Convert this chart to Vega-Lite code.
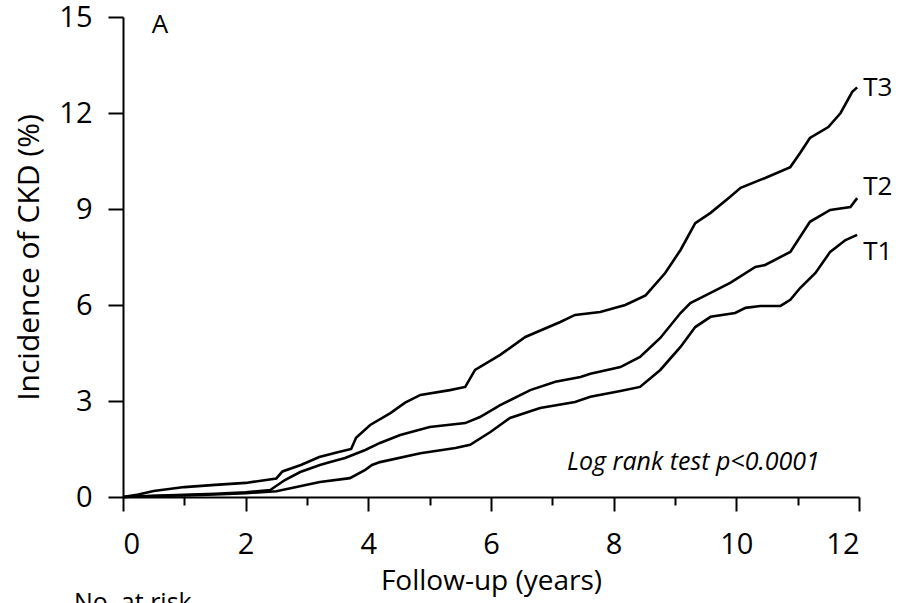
{
  "$schema": "https://vega.github.io/schema/vega-lite/v6.json",
  "autosize": {"type": "none"},
  "width": 736,
  "height": 480,
  "padding": {"left": 123, "top": 17, "right": 39, "bottom": 106},
  "background": "white",
  "config": {
    "view": {"stroke": null},
    "font": "Open Sans",
    "axis": {
      "domainColor": "black",
      "domainWidth": 2,
      "tickColor": "black",
      "tickWidth": 2,
      "labelFont": "Open Sans",
      "labelColor": "black",
      "labelFontSize": 29,
      "titleFont": "Open Sans",
      "titleColor": "black",
      "titleFontSize": 28,
      "titleFontWeight": "normal",
      "grid": false
    }
  },
  "datasets": {
    "curves": [
      {"group": "T3", "t": 0, "v": 0}, {"group": "T3", "t": 0.25, "v": 0.08}, {"group": "T3", "t": 0.5, "v": 0.19}, {"group": "T3", "t": 1, "v": 0.31}, {"group": "T3", "t": 1.5, "v": 0.38}, {"group": "T3", "t": 2, "v": 0.44}, {"group": "T3", "t": 2.5, "v": 0.58}, {"group": "T3", "t": 2.6, "v": 0.8}, {"group": "T3", "t": 2.9, "v": 1.0}, {"group": "T3", "t": 3.2, "v": 1.25}, {"group": "T3", "t": 3.5, "v": 1.4}, {"group": "T3", "t": 3.72, "v": 1.5}, {"group": "T3", "t": 3.8, "v": 1.85}, {"group": "T3", "t": 4.03, "v": 2.25}, {"group": "T3", "t": 4.36, "v": 2.62}, {"group": "T3", "t": 4.6, "v": 2.95}, {"group": "T3", "t": 4.85, "v": 3.19}, {"group": "T3", "t": 5.33, "v": 3.34}, {"group": "T3", "t": 5.58, "v": 3.44}, {"group": "T3", "t": 5.74, "v": 3.97}, {"group": "T3", "t": 6.15, "v": 4.44}, {"group": "T3", "t": 6.56, "v": 5.0}, {"group": "T3", "t": 7.13, "v": 5.47}, {"group": "T3", "t": 7.37, "v": 5.69}, {"group": "T3", "t": 7.78, "v": 5.78}, {"group": "T3", "t": 8.19, "v": 6.0}, {"group": "T3", "t": 8.52, "v": 6.3}, {"group": "T3", "t": 8.84, "v": 7.0}, {"group": "T3", "t": 9.09, "v": 7.72}, {"group": "T3", "t": 9.33, "v": 8.56}, {"group": "T3", "t": 9.58, "v": 8.88}, {"group": "T3", "t": 9.9, "v": 9.38}, {"group": "T3", "t": 10.07, "v": 9.66}, {"group": "T3", "t": 10.47, "v": 9.97}, {"group": "T3", "t": 10.88, "v": 10.31}, {"group": "T3", "t": 11.04, "v": 10.75}, {"group": "T3", "t": 11.2, "v": 11.22}, {"group": "T3", "t": 11.5, "v": 11.56}, {"group": "T3", "t": 11.7, "v": 12.0}, {"group": "T3", "t": 11.89, "v": 12.66}, {"group": "T3", "t": 11.97, "v": 12.8},
      {"group": "T2", "t": 0, "v": 0}, {"group": "T2", "t": 0.5, "v": 0.04}, {"group": "T2", "t": 1, "v": 0.07}, {"group": "T2", "t": 1.5, "v": 0.1}, {"group": "T2", "t": 2, "v": 0.15}, {"group": "T2", "t": 2.4, "v": 0.22}, {"group": "T2", "t": 2.64, "v": 0.53}, {"group": "T2", "t": 2.89, "v": 0.78}, {"group": "T2", "t": 3.21, "v": 1.0}, {"group": "T2", "t": 3.38, "v": 1.09}, {"group": "T2", "t": 3.62, "v": 1.22}, {"group": "T2", "t": 3.95, "v": 1.47}, {"group": "T2", "t": 4.19, "v": 1.69}, {"group": "T2", "t": 4.52, "v": 1.94}, {"group": "T2", "t": 5.0, "v": 2.19}, {"group": "T2", "t": 5.58, "v": 2.31}, {"group": "T2", "t": 5.82, "v": 2.5}, {"group": "T2", "t": 6.15, "v": 2.87}, {"group": "T2", "t": 6.64, "v": 3.34}, {"group": "T2", "t": 7.05, "v": 3.6}, {"group": "T2", "t": 7.46, "v": 3.75}, {"group": "T2", "t": 7.62, "v": 3.85}, {"group": "T2", "t": 8.11, "v": 4.06}, {"group": "T2", "t": 8.43, "v": 4.38}, {"group": "T2", "t": 8.76, "v": 4.97}, {"group": "T2", "t": 9.09, "v": 5.75}, {"group": "T2", "t": 9.25, "v": 6.06}, {"group": "T2", "t": 9.58, "v": 6.38}, {"group": "T2", "t": 9.9, "v": 6.69}, {"group": "T2", "t": 10.31, "v": 7.19}, {"group": "T2", "t": 10.47, "v": 7.25}, {"group": "T2", "t": 10.88, "v": 7.66}, {"group": "T2", "t": 11.2, "v": 8.6}, {"group": "T2", "t": 11.53, "v": 8.97}, {"group": "T2", "t": 11.86, "v": 9.06}, {"group": "T2", "t": 11.97, "v": 9.34},
      {"group": "T1", "t": 0, "v": 0}, {"group": "T1", "t": 0.5, "v": 0.03}, {"group": "T1", "t": 1, "v": 0.05}, {"group": "T1", "t": 1.5, "v": 0.08}, {"group": "T1", "t": 2, "v": 0.12}, {"group": "T1", "t": 2.5, "v": 0.18}, {"group": "T1", "t": 2.75, "v": 0.28}, {"group": "T1", "t": 3.21, "v": 0.47}, {"group": "T1", "t": 3.7, "v": 0.59}, {"group": "T1", "t": 3.95, "v": 0.85}, {"group": "T1", "t": 4.06, "v": 1.0}, {"group": "T1", "t": 4.19, "v": 1.09}, {"group": "T1", "t": 4.85, "v": 1.37}, {"group": "T1", "t": 5.42, "v": 1.53}, {"group": "T1", "t": 5.66, "v": 1.63}, {"group": "T1", "t": 5.99, "v": 2.03}, {"group": "T1", "t": 6.31, "v": 2.47}, {"group": "T1", "t": 6.8, "v": 2.78}, {"group": "T1", "t": 7.37, "v": 2.97}, {"group": "T1", "t": 7.62, "v": 3.13}, {"group": "T1", "t": 8.11, "v": 3.31}, {"group": "T1", "t": 8.43, "v": 3.44}, {"group": "T1", "t": 8.76, "v": 3.97}, {"group": "T1", "t": 9.09, "v": 4.69}, {"group": "T1", "t": 9.33, "v": 5.31}, {"group": "T1", "t": 9.58, "v": 5.63}, {"group": "T1", "t": 9.98, "v": 5.75}, {"group": "T1", "t": 10.15, "v": 5.91}, {"group": "T1", "t": 10.39, "v": 5.97}, {"group": "T1", "t": 10.72, "v": 5.97}, {"group": "T1", "t": 10.88, "v": 6.16}, {"group": "T1", "t": 11.04, "v": 6.53}, {"group": "T1", "t": 11.29, "v": 7.0}, {"group": "T1", "t": 11.53, "v": 7.66}, {"group": "T1", "t": 11.78, "v": 8.03}, {"group": "T1", "t": 11.97, "v": 8.19}
    ],
    "endLabels": [
      {"t": 12.07, "v": 12.78, "label": "T3"},
      {"t": 12.07, "v": 9.69, "label": "T2"},
      {"t": 12.07, "v": 7.66, "label": "T1"},
      {"t": 0.47, "v": 14.75, "label": "A"}
    ],
    "note": [
      {"t": 7.24, "v": 1.1, "label": "Log rank test p<0.0001"}
    ],
    "risk": [
      {"t": -0.8, "v": -3.3, "label": "No. at risk"}
    ]
  },
  "layer": [
    {
      "data": {"name": "curves"},
      "mark": {"type": "line", "color": "black", "strokeWidth": 2.6, "clip": false},
      "encoding": {
        "x": {
          "field": "t", "type": "quantitative",
          "scale": {"domain": [0, 12], "nice": false, "zero": false},
          "axis": {
            "values": [0, 1, 2, 3, 4, 5, 6, 7, 8, 9, 10, 11, 12],
            "format": "d",
            "labelExpr": "datum.value % 2 === 0 ? datum.label : ''",
            "tickSize": {"condition": {"test": "datum.value % 2 === 1", "value": 8}, "value": 14},
            "labelPadding": 19,
            "title": "Follow-up (years)",
            "titlePadding": 8
          }
        },
        "y": {
          "field": "v", "type": "quantitative",
          "scale": {"domain": [0, 15], "nice": false},
          "axis": {
            "values": [0, 3, 6, 9, 12, 15],
            "format": "d",
            "tickSize": 15,
            "labelPadding": 16,
            "title": "Incidence of CKD (%)",
            "titleFontSize": 30,
            "titlePadding": 14
          }
        },
        "detail": {"field": "group"}
      }
    },
    {
      "data": {"name": "endLabels"},
      "mark": {"type": "text", "align": "left", "baseline": "middle", "fontSize": 26, "font": "Open Sans", "color": "black", "clip": false},
      "encoding": {
        "x": {"field": "t", "type": "quantitative"},
        "y": {"field": "v", "type": "quantitative"},
        "text": {"field": "label"}
      }
    },
    {
      "data": {"name": "note"},
      "mark": {"type": "text", "align": "left", "baseline": "middle", "fontSize": 25, "fontStyle": "italic", "font": "Open Sans", "color": "black"},
      "encoding": {
        "x": {"field": "t", "type": "quantitative"},
        "y": {"field": "v", "type": "quantitative"},
        "text": {"field": "label"}
      }
    },
    {
      "data": {"name": "risk"},
      "mark": {"type": "text", "align": "left", "baseline": "middle", "fontSize": 25, "font": "Open Sans", "color": "black", "clip": false},
      "encoding": {
        "x": {"field": "t", "type": "quantitative"},
        "y": {"field": "v", "type": "quantitative"},
        "text": {"field": "label"}
      }
    }
  ]
}
